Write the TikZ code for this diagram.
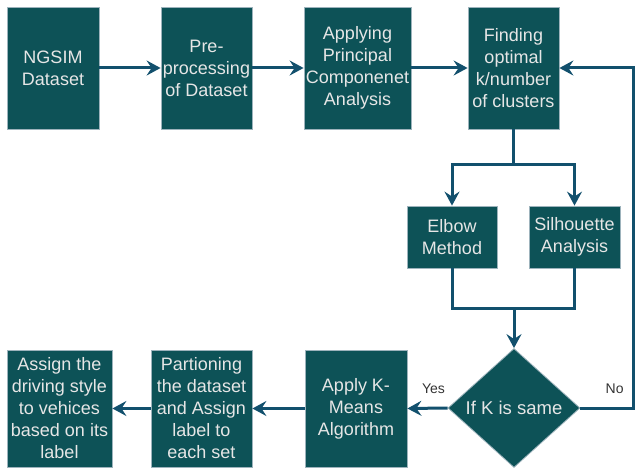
\documentclass[tikz,border=0pt]{standalone}
\usepackage{fontspec}
\setmainfont{Liberation Sans}
\usetikzlibrary{arrows.meta,shapes.geometric}
\definecolor{tealbox}{HTML}{0D5257}
\definecolor{edgeline}{HTML}{9DB3BC}
\definecolor{arrowblue}{HTML}{12506D}
\definecolor{boxtext}{HTML}{E6E6E6}
\begin{document}
\begin{tikzpicture}[
  x=1pt, y=-1pt,
  box/.style={draw=edgeline, line width=0.8pt, fill=tealbox, text=boxtext,
              inner sep=0pt, minimum width=#1, align=center,
              font=\fontsize{18}{22}\selectfont},
  cond/.style={diamond, draw=edgeline, line width=0.8pt, fill=tealbox, text=boxtext,
               inner sep=0pt, minimum width=132pt, minimum height=119pt,
               font=\fontsize{18.5}{22}\selectfont},
  lbl/.style={font=\fontsize{14}{16}\selectfont, text=black!80},
  line/.style={draw=arrowblue, line width=3pt},
  arr/.style={line, -{Stealth[length=14pt, width=15pt, inset=5pt]}}
]
  \useasboundingbox (0,0) rectangle (635,468);

  %-- Top row
  \node[box=92pt,  minimum height=122pt] (ngsim) at (53,   68) {NGSIM\\Dataset};
  \node[box=91pt,  minimum height=122pt] (prep)  at (206.5,68) {Pre-\\processing\\of Dataset};
  \node[box=107pt, minimum height=122pt] (pca)   at (357.5,68) {Applying\\Principal\\Componenet\\Analysis};
  \node[box=91pt,  minimum height=122pt] (find)  at (513.5,68) {Finding\\optimal\\k/number\\of clusters};

  %-- Methods
  \node[box=90pt, minimum height=62pt] (elbow) at (452,  237) {Elbow\\Method};
  \node[box=91pt, minimum height=62pt] (silh)  at (574.5,237) {Silhouette\\Analysis};

  %-- Decision
  \node[cond] (same) at (514,408) {If K is same};

  %-- Bottom row
  \node[box=102pt, minimum height=117pt] (kmeans) at (356,  408.5) {Apply K-\\Means\\Algorithm};
  \node[box=101pt, minimum height=117pt] (part)   at (201.5,408.5) {Partioning\\the dataset\\and Assign\\label to\\each set};
  \node[box=105pt, minimum height=117pt] (style)  at (59.5, 408.5) {Assign the\\driving style\\to vehices\\based on its\\label};

  \coordinate (split) at (513.5,165);
  \coordinate (merge) at (514,  308);
  \coordinate (loop)  at (633,  408);

  %-- Arrows
  \draw[arr] (ngsim) -- (prep);
  \draw[arr] (prep)  -- (pca);
  \draw[arr] (pca)   -- (find);
  \draw[line] (find.south) -- (split);
  \draw[arr] (split) -| (elbow.north);
  \draw[arr] (split) -| (silh.north);
  \draw[line] (elbow.south) |- (merge) -| (silh.south);
  \draw[arr] (merge) -- (same.north);
  \draw[arr] (same.west) -- (kmeans.east) node[pos=0.35, above=10pt, lbl]{Yes};
  \draw[arr] (same.east) -- (loop) node[pos=0.65, above=10pt, lbl]{No} |- (find.east);
  \draw[arr] (kmeans) -- (part);
  \draw[arr] (part)   -- (style);
\end{tikzpicture}
\end{document}
